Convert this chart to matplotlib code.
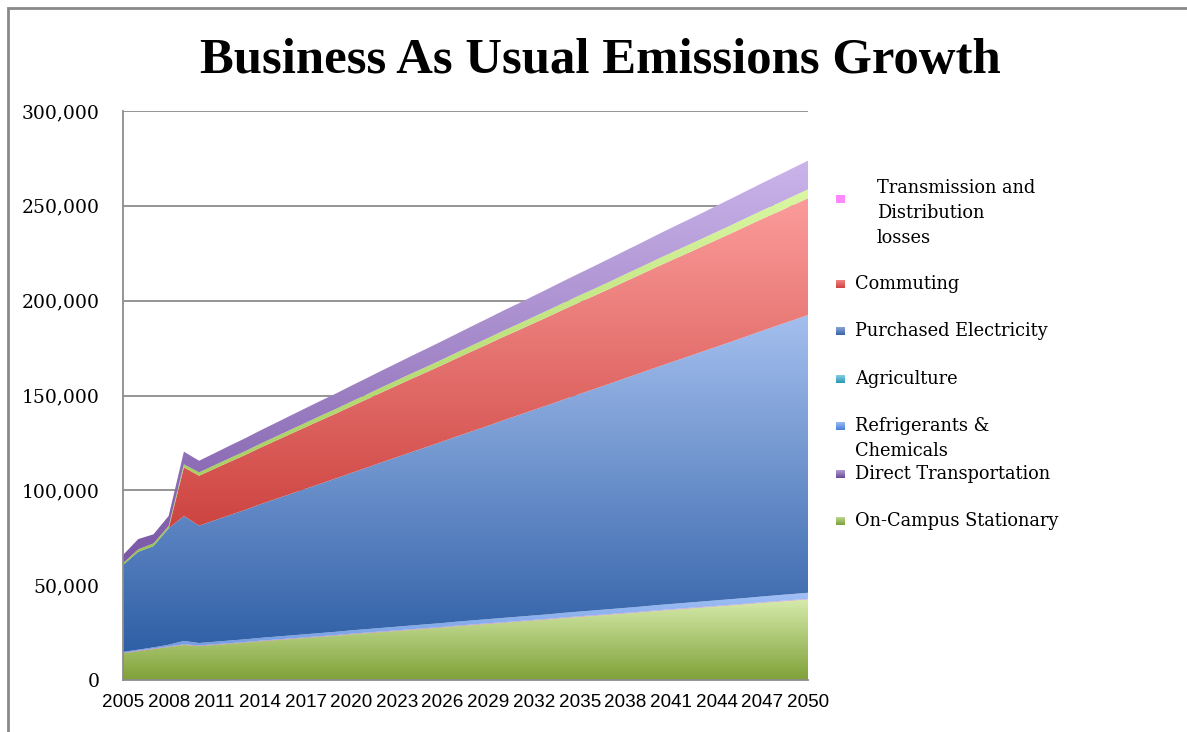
import numpy as np
import matplotlib
matplotlib.use("Agg")
import matplotlib.pyplot as plt
from matplotlib.patches import Rectangle
from matplotlib.colors import to_rgb

# ---- data (tonnes CO2e) ----
years = list(range(2005, 2051))

on_campus = [14100, 15200, 16300, 17400, 18500, 17900,
             18500, 19100, 19700, 20400, 21000, 21600, 22200, 22800, 23400, 24100,
             24700, 25300, 25900, 26500, 27100, 27700, 28400, 29000, 29600, 30200,
             30800, 31400, 32000, 32700, 33300, 33900, 34500, 35100, 35700, 36400,
             37000, 37600, 38200, 38800, 39400, 40000, 40700, 41300, 41900, 42500]

td_losses = [300, 300, 300, 300, 300, 300,
             300, 300, 300, 300, 300, 300, 300, 300, 300, 300,
             300, 300, 300, 300, 300, 300, 300, 300, 300, 300,
             300, 300, 300, 300, 300, 300, 300, 300, 300, 300,
             300, 300, 300, 300, 300, 300, 300, 300, 300, 300]

refrigerants = [400, 500, 600, 900, 1800, 1300,
                1350, 1400, 1440, 1490, 1540, 1590, 1630, 1680, 1730, 1780,
                1820, 1870, 1920, 1970, 2010, 2060, 2110, 2160, 2200, 2250,
                2300, 2350, 2390, 2440, 2490, 2540, 2580, 2630, 2680, 2730,
                2770, 2820, 2870, 2920, 2960, 3010, 3060, 3110, 3150, 3200]

purchased_electricity = [45800, 51600, 53400, 61400, 65900, 61900,
                         64000, 66100, 68200, 70400, 72500, 74600, 76700, 78800, 80900, 83000,
                         85100, 87300, 89400, 91500, 93600, 95700, 97800, 99900, 102000, 104200,
                         106300, 108400, 110500, 112600, 114700, 116800, 118900, 121100, 123200, 125300,
                         127400, 129500, 131600, 133700, 135800, 138000, 140100, 142200, 144300, 146400]

commuting = [0, 0, 0, 0, 25600, 26300,
             27200, 28100, 28900, 29800, 30700, 31600, 32500, 33400, 34200, 35100,
             36000, 36900, 37800, 38700, 39500, 40400, 41300, 42200, 43100, 44000,
             44800, 45700, 46600, 47500, 48400, 49200, 50100, 51000, 51900, 52800,
             53700, 54500, 55400, 56300, 57200, 58100, 59000, 59800, 60700, 61600]

agriculture = [1000, 1300, 1400, 1200, 1600, 1800,
               1870, 1950, 2020, 2090, 2160, 2240, 2310, 2380, 2450, 2530,
               2600, 2670, 2740, 2820, 2890, 2960, 3030, 3110, 3180, 3250,
               3320, 3400, 3470, 3540, 3610, 3690, 3760, 3830, 3900, 3980,
               4050, 4120, 4190, 4270, 4340, 4410, 4480, 4560, 4630, 4700]

direct_transport = [4300, 5400, 4800, 5300, 6700, 6100,
                    6300, 6550, 6800, 7000, 7200, 7450, 7700, 7900, 8100, 8350,
                    8600, 8800, 9000, 9250, 9500, 9700, 9900, 10150, 10400, 10600,
                    10800, 11050, 11300, 11500, 11700, 11950, 12200, 12400, 12600, 12850,
                    13100, 13300, 13500, 13750, 14000, 14200, 14400, 14650, 14900, 15100]

tick_years = list(range(2005, 2051, 3))
y_ticks = [0, 50000, 100000, 150000, 200000, 250000, 300000]

legend_labels = [["Transmission and", "Distribution", "losses"], ["Commuting"],
                 ["Purchased Electricity"], ["Agriculture"], ["Refrigerants &", "Chemicals"],
                 ["Direct Transportation"], ["On-Campus Stationary"]]

# stacking order, bottom to top: (values, dark colour, light colour)
stack = [
    (on_campus, "#7fa138", "#d6ebab"),
    (td_losses, "#b070b8", "#d090d8"),
    (refrigerants, "#6f9ae0", "#a0c0f6"),
    (purchased_electricity, "#2f5fa6", "#a4bfee"),
    (commuting, "#c83a36", "#fb9c9a"),
    (agriculture, "#98c24a", "#daf7a2"),
    (direct_transport, "#7a58a6", "#cab4ea"),
]

fig = plt.figure(figsize=(11.87, 7.32), dpi=100)
ax = fig.add_axes([123 / 1187, 1 - 680 / 732, 685 / 1187, 569 / 732])

x = np.array(years, dtype=float)
base = np.zeros(len(years))
for vals, dark, light in stack:
    top = base + np.array(vals, dtype=float)
    poly = ax.fill_between(x, base, top, facecolor="none", linewidth=0, zorder=2)
    y0, y1 = base.min(), top.max()
    c0, c1 = np.array(to_rgb(dark)), np.array(to_rgb(light))
    t = np.linspace(0, 1, 256)[:, None, None]
    grad = c0 * (1 - t) + c1 * t
    im = ax.imshow(grad, extent=[x[0], x[-1], y0, y1], origin="lower",
                   aspect="auto", zorder=2, interpolation="bilinear")
    im.set_clip_path(poly.get_paths()[0], transform=ax.transData)
    base = top

ax.set_xlim(2005, 2050)
ax.set_ylim(0, 300000)
ax.set_yticks(y_ticks)
ax.set_yticklabels([f"{v:,}" for v in y_ticks], family="DejaVu Serif", fontsize=13.5)
ax.set_xticks(tick_years)
ax.set_xticklabels([str(v) for v in tick_years], family="Liberation Sans", fontsize=13.6)
ax.tick_params(axis="y", length=0, pad=17)
ax.tick_params(axis="x", length=0, pad=10)
ax.yaxis.grid(True, color="#8c8c8c", linewidth=1.3, zorder=1)
ax.set_axisbelow(True)
for side in ("top", "right"):
    ax.spines[side].set_visible(False)
for side in ("left", "bottom"):
    ax.spines[side].set_color("#8c8c8c")
    ax.spines[side].set_linewidth(1.3)
ax.set_facecolor("white")

fig.text(0.5055, 1 - 61 / 732, "Business As Usual Emissions Growth",
         ha="center", va="center", fontsize=36.5, fontweight="bold",
         family="Liberation Serif")

# outer chart border
fig.patches.append(Rectangle((8 / 1187, -0.1), 1.2, 1 - 8 / 732 + 0.1,
                             transform=fig.transFigure, fill=False,
                             edgecolor="#8a8a8a", linewidth=2))

# legend
legend_swatches = [("#ff88ff", "#ff88ff"), ("#d04440", "#f48a88"), ("#3a64a8", "#94acdc"),
                   ("#2a98b8", "#90d4e4"), ("#4a80d8", "#a2c2f8"), ("#684a96", "#bca6dc"),
                   ("#7ea03c", "#cde6a4")]
swatch_y = [199, 284, 331, 379, 426, 474, 521]
text_y = [188, 284, 331, 379, 426, 474, 521]
text_x = [877, 855, 855, 855, 855, 855, 855]
line_step = 25
for (dark, light), sy, ty, tx, lines in zip(legend_swatches, swatch_y, text_y, text_x,
                                            legend_labels):
    sax = fig.add_axes([836 / 1187, 1 - (sy + 4.5) / 732, 9 / 1187, 9 / 732])
    c0, c1 = np.array(to_rgb(dark)), np.array(to_rgb(light))
    t = np.linspace(0, 1, 32)[:, None, None]
    sax.imshow(c0 * (1 - t) + c1 * t, origin="lower", aspect="auto")
    sax.axis("off")
    for i, line in enumerate(lines):
        fig.text(tx / 1187, 1 - (ty + i * line_step) / 732, line, ha="left",
                 va="center", fontsize=12.8, family="DejaVu Serif")

fig.savefig("out.png", dpi=100)
